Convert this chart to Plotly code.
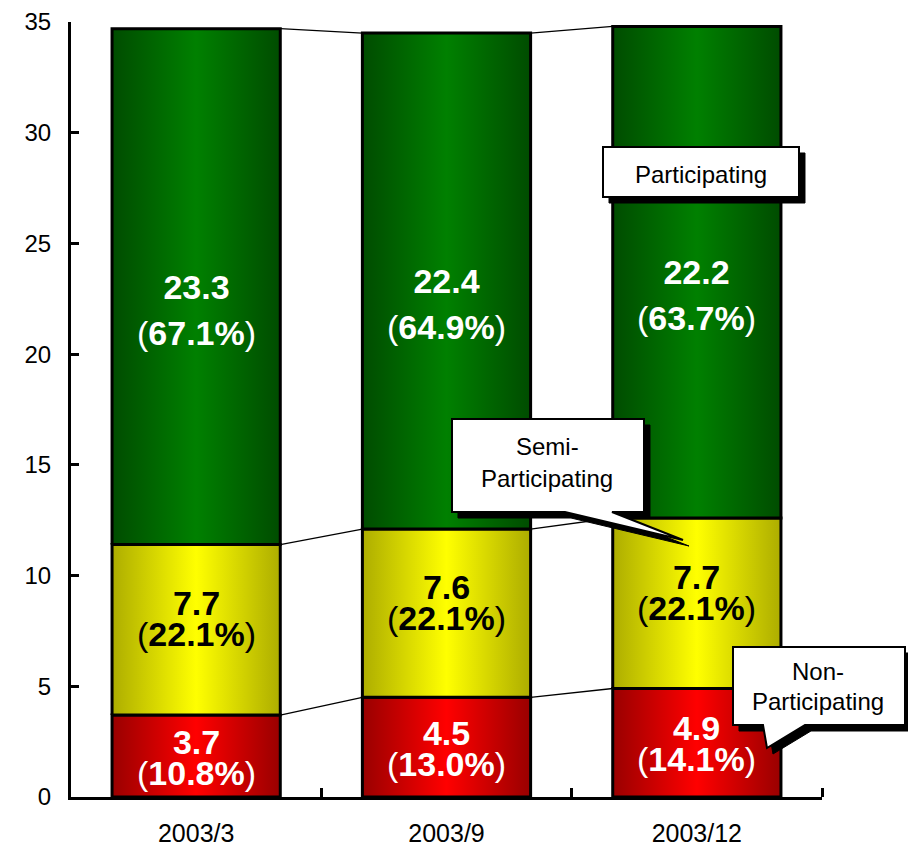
import plotly.graph_objects as go

categories = ["2003/3", "2003/9", "2003/12"]
non_vals = [3.7, 4.5, 4.9]
semi_vals = [7.7, 7.6, 7.7]
part_vals = [23.3, 22.4, 22.2]
non_pct = [10.8, 13.0, 14.1]
semi_pct = [22.1, 22.1, 22.1]
part_pct = [67.1, 64.9, 63.7]
y_ticks = [0, 5, 10, 15, 20, 25, 30, 35]

W, H = 908, 847
ML, MR, MT, MB = 71, 86, 22, 50
PW, PH = W - ML - MR, H - MT - MB
HALF = 0.336
FONT = "Liberation Sans, Arial, sans-serif"
TXT_SIZE = 34

# base: font size controlling line spacing; shift: block-center offset in px
layers = [
    dict(vals=non_vals, pct=non_pct, dark="#990000", bright="#ff0000", txt="white", base=24, shift=-1),
    dict(vals=semi_vals, pct=semi_pct, dark="#adad00", bright="#ffff00", txt="black", base=24, shift=11),
    dict(vals=part_vals, pct=part_pct, dark="#004c00", bright="#008000", txt="white", base=35, shift=-23),
]

fig = go.Figure()

# connector lines
base = [0.0] * len(categories)
cum_levels = []
for L in layers:
    base = [b + v for b, v in zip(base, L["vals"])]
    cum_levels.append(list(base))
for lev in cum_levels:
    for i in range(len(categories) - 1):
        fig.add_trace(go.Scatter(
            x=[i + HALF, i + 1 - HALF], y=[lev[i], lev[i + 1]], mode="lines",
            line=dict(color="black", width=1.3), hoverinfo="skip", showlegend=False))

annotations = []
base = [0.0] * len(categories)
for L in layers:
    for i, v in enumerate(L["vals"]):
        b = base[i]
        t = b + v
        fig.add_trace(go.Scatter(
            x=[i - HALF, i + HALF, i + HALF, i - HALF, i - HALF],
            y=[b, b, t, t, b], mode="lines", fill="toself",
            fillgradient=dict(type="horizontal", start=i - HALF, stop=i + HALF,
                              colorscale=[[0, L["dark"]], [0.5, L["bright"]], [1, L["dark"]]]),
            line=dict(color="black", width=3), hoverinfo="skip", showlegend=False))
        mid = b + v / 2
        s = f"font-size:{TXT_SIZE}px"
        text = (f"<span style='{s};font-weight:bold'>{v:.1f}</span><br>"
                f"<span style='{s};font-weight:normal'>(</span>"
                f"<span style='{s};font-weight:bold'>{L['pct'][i]:.1f}%</span>"
                f"<span style='{s};font-weight:normal'>)</span>")
        annotations.append(dict(x=i, y=mid, xref="x", yref="y", text=text, showarrow=False,
                                xanchor="center", yanchor="middle", yshift=L["shift"],
                                font=dict(family=FONT, size=L["base"], color=L["txt"])))
    base = [b + v for b, v in zip(base, L["vals"])]


def px(xp):
    return (xp - ML) / PW


def py(yp):
    return (H - MB - yp) / PH


def path(pts):
    return "M " + " L ".join(f"{px(a):.5f},{py(b):.5f}" for a, b in pts) + " Z"


callouts = [
    [(603, 147), (799, 147), (799, 197), (603, 197)],
    [(452, 419), (644, 419), (644, 512), (612, 512), (683, 540), (565, 512), (452, 512)],
    [(733, 647), (905, 647), (905, 725), (805, 725), (767, 748), (763, 725), (733, 725)],
]
shapes = []
for pts in callouts:
    shadow = [(a + 6, b + 6) for a, b in pts]
    shapes.append(dict(type="path", xref="paper", yref="paper", path=path(shadow),
                       fillcolor="black", line=dict(color="black", width=1)))
    shapes.append(dict(type="path", xref="paper", yref="paper", path=path(pts),
                       fillcolor="white", line=dict(color="black", width=2)))

labels = [
    ("Participating", 701, 174),
    ("Semi-", 547, 446),
    ("Participating", 547, 478),
    ("Non-", 818, 671),
    ("Participating", 818, 701),
]
for txt, a, b in labels:
    annotations.append(dict(x=px(a), y=py(b), xref="paper", yref="paper", text=txt, showarrow=False,
                            xanchor="center", yanchor="middle",
                            font=dict(family=FONT, size=24, color="black")))

fig.update_layout(
    width=W, height=H, margin=dict(l=ML, r=MR, t=MT, b=MB),
    paper_bgcolor="white", plot_bgcolor="white",
    showlegend=False, shapes=shapes, annotations=annotations,
    xaxis=dict(range=[-0.5, 2.5], tickvals=[0, 1, 2], ticktext=categories, ticks="",
               showline=True, linecolor="black", linewidth=3, showgrid=False, zeroline=False,
               automargin=False,
               tickfont=dict(family=FONT, size=25, color="black"), ticklabelstandoff=12,
               minor=dict(tickvals=[0.5, 1.5, 2.5], ticks="inside", ticklen=9, tickwidth=3,
                          tickcolor="black", showgrid=False)),
    yaxis=dict(range=[0, 35], tickvals=y_ticks, ticks="inside", ticklen=8, tickwidth=3,
               tickcolor="black", showline=True, linecolor="black", linewidth=3,
               showgrid=False, zeroline=False, automargin=False,
               tickfont=dict(family=FONT, size=24, color="black"), ticklabelstandoff=12),
)

fig.write_html("out.html")
